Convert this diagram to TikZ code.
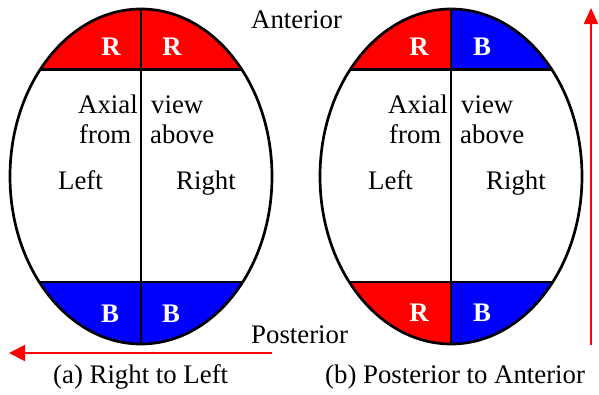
\documentclass[tikz,border=0pt]{standalone}
\usepackage{fontspec}
\setmainfont{Liberation Serif}
\usetikzlibrary{arrows.meta}
\begin{document}
\begin{tikzpicture}[x=1pt,y=-1pt,
  lbl/.style={font=\fontsize{26.8}{30}\selectfont, inner sep=0pt},
  let/.style={font=\fontsize{26.8}{30}\selectfont\bfseries, text=white, inner sep=0pt, anchor=base},
  outline/.style={line width=2.7pt},
  arr/.style={red, line width=2pt, -{Triangle[length=16pt, width=16pt]}}]
\useasboundingbox (0,0) rectangle (599,394);
% ---- head (a)
\begin{scope}
  \clip (141,176.5) ellipse [x radius=131, y radius=167.5];
  \fill[red] (0,0) rectangle (300,69.5);
  \fill[blue] (0,282) rectangle (300,400);
  \draw[outline] (0,69.5) -- (300,69.5);
  \draw[outline] (0,282) -- (300,282);
  \draw[outline] (141,0) -- (141,400);
\end{scope}
\draw[outline] (141,176.5) ellipse [x radius=131, y radius=167.5];
% ---- head (b)
\begin{scope}
  \clip (451,176.5) ellipse [x radius=131, y radius=167.5];
  \fill[red] (300,0) rectangle (451,69.5);
  \fill[blue] (451,0) rectangle (600,69.5);
  \fill[red] (300,282) rectangle (451,400);
  \fill[blue] (451,282) rectangle (600,400);
  \draw[outline] (300,69.5) -- (600,69.5);
  \draw[outline] (300,282) -- (600,282);
  \draw[outline] (451,0) -- (451,400);
\end{scope}
\draw[outline] (451,176.5) ellipse [x radius=131, y radius=167.5];
% ---- letters
\node[let] (ar1) at (111,55) {R};
\node[let] (ar2) at (172,55) {R};
\node[let] (ab1) at (110,322) {B};
\node[let] (ab2) at (171,322) {B};
\node[let] (br1) at (419,55) {R};
\node[let] (bb1) at (482,55) {B};
\node[let] (br2) at (419,321) {R};
\node[let] (bb2) at (482,321) {B};
% ---- inner labels
\foreach \dx/\p in {0/a, 310/b} {
  \node[lbl, anchor=base west] (\p axial) at (78+\dx,113) {Axial};
  \node[lbl, anchor=base west] (\p from) at (79+\dx,143) {from};
  \node[lbl, anchor=base west] (\p view) at (151+\dx,113) {view};
  \node[lbl, anchor=base west] (\p above) at (150+\dx,143) {above};
  \node[lbl, anchor=base west] (\p left) at (58+\dx,189) {Left};
  \node[lbl, anchor=base west] (\p right) at (176+\dx,189) {Right};
}
% ---- side labels
\node[lbl, anchor=base west] (ant) at (251,28) {Anterior};
\node[lbl, anchor=base west] (post) at (251,343) {Posterior};
\node[lbl, anchor=base west] (capa) at (53,383) {(a) Right to Left};
\node[lbl, anchor=base west] (capb) at (325,383) {(b) Posterior to Anterior};
% ---- arrows
\coordinate (a1) at (272,353);
\coordinate (a2) at (9,353);
\coordinate (b1) at (591,345);
\coordinate (b2) at (591,8);
\draw[arr] (a1) -- (a2);
\draw[arr, -{Triangle[length=16pt, width=14pt]}] (b1) -- (b2);
\end{tikzpicture}
\end{document}
